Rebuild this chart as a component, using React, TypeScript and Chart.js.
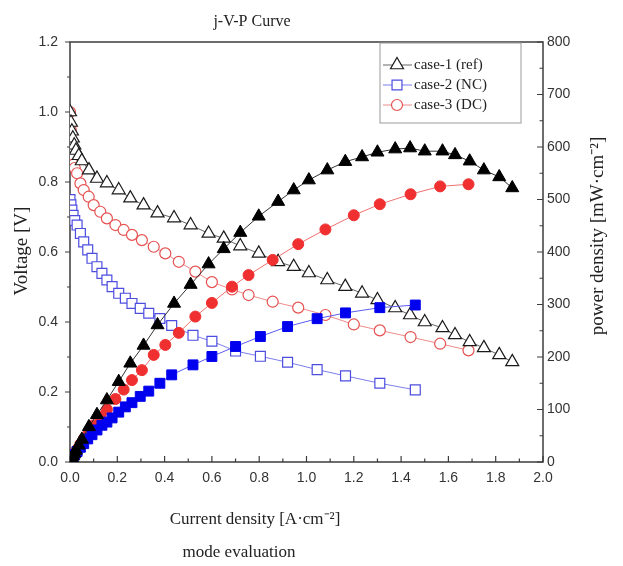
import React, { useEffect, useRef } from 'react';
import { Chart, registerables } from 'chart.js';

Chart.register(...registerables);

// ---- data ----
const case1J = [0, 0.004, 0.008, 0.012, 0.018, 0.025, 0.037, 0.05, 0.08, 0.114, 0.156, 0.206, 0.255, 0.311, 0.37, 0.44, 0.51, 0.586, 0.65, 0.72, 0.798, 0.88, 0.946, 1.01, 1.088, 1.164, 1.235, 1.30, 1.375, 1.438, 1.50, 1.575, 1.628, 1.69, 1.75, 1.815, 1.87];
const case1V = [1.0, 0.97, 0.945, 0.925, 0.905, 0.89, 0.875, 0.86, 0.834, 0.81, 0.797, 0.777, 0.754, 0.734, 0.711, 0.697, 0.677, 0.653, 0.639, 0.617, 0.596, 0.572, 0.558, 0.54, 0.52, 0.501, 0.482, 0.463, 0.44, 0.42, 0.40, 0.383, 0.363, 0.343, 0.326, 0.306, 0.286];
const case1P = [0, 4, 8, 11, 16, 22, 32, 43, 67, 90, 118, 153, 188, 222, 261, 302, 338, 377, 406, 437, 468, 496, 518, 537, 556, 572, 581, 590, 596, 598, 592, 592, 585, 573, 556, 543, 522];

const case2J = [0, 0.004, 0.008, 0.013, 0.02, 0.03, 0.044, 0.058, 0.075, 0.093, 0.114, 0.135, 0.156, 0.178, 0.206, 0.234, 0.262, 0.297, 0.333, 0.38, 0.43, 0.52, 0.60, 0.70, 0.805, 0.92, 1.045, 1.165, 1.31, 1.46];
const case2V = [0.75, 0.735, 0.72, 0.705, 0.69, 0.677, 0.653, 0.629, 0.606, 0.582, 0.558, 0.539, 0.52, 0.501, 0.482, 0.468, 0.453, 0.439, 0.425, 0.41, 0.39, 0.362, 0.345, 0.317, 0.302, 0.285, 0.264, 0.246, 0.225, 0.206];
const case2P = [0, 3, 6, 9, 14, 20, 28, 35, 44, 52, 61, 70, 76, 84, 95, 105, 113, 125, 135, 150, 166, 185, 201, 220, 239, 258, 273, 284, 294, 299];

const case3J = [0, 0.003, 0.006, 0.01, 0.015, 0.02, 0.03, 0.044, 0.058, 0.079, 0.10, 0.128, 0.156, 0.192, 0.227, 0.262, 0.304, 0.354, 0.403, 0.46, 0.53, 0.60, 0.685, 0.755, 0.857, 0.965, 1.08, 1.20, 1.31, 1.44, 1.565, 1.685];
const case3V = [1.0, 0.95, 0.9, 0.87, 0.85, 0.84, 0.825, 0.796, 0.777, 0.758, 0.734, 0.715, 0.696, 0.677, 0.663, 0.649, 0.634, 0.615, 0.596, 0.572, 0.544, 0.514, 0.493, 0.477, 0.458, 0.441, 0.42, 0.393, 0.376, 0.357, 0.338, 0.319];
const case3P = [0, 3, 5, 9, 13, 17, 24, 34, 44, 57, 70, 86, 100, 120, 138, 156, 175, 204, 223, 246, 277, 303, 334, 356, 385, 415, 443, 470, 491, 510, 525, 529];

const seriesLabels = ['case-1 (ref)', 'case-2 (NC)', 'case-3 (DC)'];
const xRange = [0, 2.0];
const xStep = 0.2;
const vRange = [0, 1.2];
const vStep = 0.2;
const pRange = [0, 800];
const pStep = 100;

const TITLE = 'j-V-P Curve';
const X_TITLE = 'Current density [A·cm⁻²]';
const Y_TITLE = 'Voltage [V]';
const Y1_TITLE = 'power density [mW·cm⁻²]';
const CAPTION = 'mode evaluation';

// ---- styles ----
const SERIF = '"Liberation Serif", "Times New Roman", serif';
const SANS = '"Liberation Sans", Arial, sans-serif';
const openStyles = [
  { marker: 'triangle', border: '#1a1a1a', line: '#666666', r: 7.5 },
  { marker: 'rect', border: '#4d4de0', line: '#7d7dec', r: 7 },
  { marker: 'circle', border: '#e65050', line: '#f08a8a', r: 5.5 },
];
const filledStyles = [
  { marker: 'triangle', color: '#000000', line: '#333333', r: 7.5 },
  { marker: 'rect', color: '#0000ee', line: '#5a5af0', r: 7 },
  { marker: 'circle', color: '#f03030', line: '#f07070', r: 5.5 },
];

const pts = (xs: number[], ys: number[]) => xs.map((x, i) => ({ x, y: ys[i] }));

function drawMarker(ctx: CanvasRenderingContext2D, kind: string, x: number, y: number, r: number) {
  ctx.beginPath();
  if (kind === 'triangle') {
    for (let k = 0; k < 3; k++) {
      const a = (k * 2 * Math.PI) / 3;
      const px = x + Math.sin(a) * r;
      const py = y - Math.cos(a) * r;
      if (k === 0) ctx.moveTo(px, py);
      else ctx.lineTo(px, py);
    }
    ctx.closePath();
  } else if (kind === 'rect') {
    const s = Math.SQRT1_2 * r;
    ctx.rect(x - s, y - s, 2 * s, 2 * s);
  } else {
    ctx.arc(x, y, r, 0, Math.PI * 2);
  }
  ctx.fill();
  ctx.stroke();
}

const decor = {
  id: 'decor',
  beforeDatasetsDraw(chart: any) {
    const { ctx, chartArea: a, scales } = chart;
    const sx = scales.x, sy = scales.y, sy1 = scales.y1;
    ctx.save();
    ctx.strokeStyle = '#3c3c3c';
    ctx.lineWidth = 1.5;
    ctx.strokeRect(a.left, a.top, a.right - a.left, a.bottom - a.top);
    ctx.lineWidth = 1.2;
    ctx.beginPath();
    const xt = sx.ticks.map((t: any) => t.value);
    xt.forEach((v: number, i: number) => {
      const p = sx.getPixelForValue(v);
      ctx.moveTo(p, a.bottom);
      ctx.lineTo(p, a.bottom - 6);
      if (i < xt.length - 1) {
        const m = sx.getPixelForValue((v + xt[i + 1]) / 2);
        ctx.moveTo(m, a.bottom);
        ctx.lineTo(m, a.bottom - 3.5);
      }
    });
    const yt = sy.ticks.map((t: any) => t.value);
    yt.forEach((v: number, i: number) => {
      const p = sy.getPixelForValue(v);
      ctx.moveTo(a.left, p);
      ctx.lineTo(a.left - 5, p);
      if (i < yt.length - 1) {
        const m = sy.getPixelForValue((v + yt[i + 1]) / 2);
        ctx.moveTo(a.left, m);
        ctx.lineTo(a.left - 3, m);
      }
    });
    const y1t = sy1.ticks.map((t: any) => t.value);
    y1t.forEach((v: number, i: number) => {
      const p = sy1.getPixelForValue(v);
      ctx.moveTo(a.right, p);
      ctx.lineTo(a.right - 6, p);
      if (i < y1t.length - 1) {
        const m = sy1.getPixelForValue((v + y1t[i + 1]) / 2);
        ctx.moveTo(a.right, m);
        ctx.lineTo(a.right - 3.5, m);
      }
    });
    ctx.stroke();
    ctx.restore();
  },
  afterDraw(chart: any) {
    const { ctx } = chart;
    ctx.save();
    ctx.fillStyle = '#222';
    ctx.textAlign = 'center';
    ctx.textBaseline = 'middle';
    ctx.font = `16px ${SERIF}`;
    ctx.fillText(TITLE, 252, 22);
    ctx.font = `17px ${SERIF}`;
    ctx.fillText(X_TITLE, 255, 520);
    ctx.fillText(CAPTION, 239, 553);
    ctx.font = `19px ${SERIF}`;
    ctx.save();
    ctx.translate(22, 251);
    ctx.rotate(-Math.PI / 2);
    ctx.fillText(Y_TITLE, 0, 0);
    ctx.restore();
    ctx.save();
    ctx.translate(598, 236);
    ctx.rotate(-Math.PI / 2);
    ctx.fillText(Y1_TITLE, 0, 0);
    ctx.restore();

    // legend
    const bx = 380, by = 43, bw = 141, bh = 80;
    ctx.fillStyle = '#fff';
    ctx.fillRect(bx, by, bw, bh);
    ctx.strokeStyle = '#9a9a9a';
    ctx.lineWidth = 1;
    ctx.strokeRect(bx, by, bw, bh);
    seriesLabels.forEach((label, i) => {
      const st = openStyles[i];
      const yy = by + 22 + i * 20;
      ctx.strokeStyle = st.line;
      ctx.lineWidth = 1;
      ctx.beginPath();
      ctx.moveTo(bx + 3, yy);
      ctx.lineTo(bx + 32, yy);
      ctx.stroke();
      ctx.fillStyle = '#fff';
      ctx.strokeStyle = st.border;
      ctx.lineWidth = 1.2;
      drawMarker(ctx, st.marker, bx + 17, yy, st.r);
      ctx.fillStyle = '#222';
      ctx.textAlign = 'left';
      ctx.font = `15px ${SERIF}`;
      ctx.fillText(label, bx + 34, yy);
    });
    ctx.restore();
  },
};

export default function App() {
  const ref = useRef<HTMLCanvasElement | null>(null);
  useEffect(() => {
    if (!ref.current) return;
    const Js = [case1J, case2J, case3J];
    const Vs = [case1V, case2V, case3V];
    const Ps = [case1P, case2P, case3P];
    const datasets: any[] = [];
    for (let i = 0; i < 3; i++) {
      const o = openStyles[i];
      datasets.push({
        label: seriesLabels[i],
        data: pts(Js[i], Vs[i]),
        yAxisID: 'y',
        showLine: true,
        borderColor: o.line,
        borderWidth: 1,
        pointStyle: o.marker,
        pointRadius: o.r,
        pointBorderColor: o.border,
        pointBackgroundColor: '#ffffff',
        pointBorderWidth: 1.2,
        order: 10 + i,
      });
    }
    for (let i = 0; i < 3; i++) {
      const f = filledStyles[i];
      datasets.push({
        label: seriesLabels[i] + ' P',
        data: pts(Js[i], Ps[i]),
        yAxisID: 'y1',
        showLine: true,
        borderColor: f.line,
        borderWidth: 1,
        pointStyle: f.marker,
        pointRadius: f.r,
        pointBorderColor: f.color,
        pointBackgroundColor: f.color,
        pointBorderWidth: 1,
        order: i,
      });
    }
    const tickFont = { family: SANS, size: 14 };
    const chart = new Chart(ref.current, {
      type: 'scatter',
      data: { datasets },
      plugins: [decor],
      options: {
        animation: false,
        responsive: false,
        layout: { padding: { top: 42, left: 0, right: 0, bottom: 0 } },
        plugins: {
          legend: { display: false },
          tooltip: { enabled: false },
          title: { display: false },
        },
        elements: { line: { tension: 0 } },
        scales: {
          x: {
            type: 'linear',
            min: xRange[0],
            max: xRange[1],
            ticks: { stepSize: xStep, padding: 8, color: '#333', font: tickFont, callback: (v: any) => Number(v).toFixed(1) },
            grid: { display: false, drawTicks: false },
            border: { display: false },
            afterFit: (s: any) => { s.height = 104; },
          },
          y: {
            type: 'linear',
            position: 'left',
            min: vRange[0],
            max: vRange[1],
            ticks: { stepSize: vStep, padding: 12, color: '#333', font: tickFont, callback: (v: any) => Number(v).toFixed(1) },
            grid: { display: false, drawTicks: false },
            border: { display: false },
            afterFit: (s: any) => { s.width = 70; },
          },
          y1: {
            type: 'linear',
            position: 'right',
            min: pRange[0],
            max: pRange[1],
            ticks: { stepSize: pStep, padding: 4, color: '#333', font: tickFont, callback: (v: any) => String(Math.round(Number(v))) },
            grid: { display: false, drawTicks: false },
            border: { display: false },
            afterFit: (s: any) => { s.width = 80; },
          },
        },
      } as any,
    });
    return () => chart.destroy();
  }, []);
  return (
    <div style={{ position: 'absolute', left: 0, top: 0, width: 623, height: 566, background: '#fff' }}>
      <canvas ref={ref} width={623} height={566} style={{ width: 623, height: 566, display: 'block' }} />
    </div>
  );
}
